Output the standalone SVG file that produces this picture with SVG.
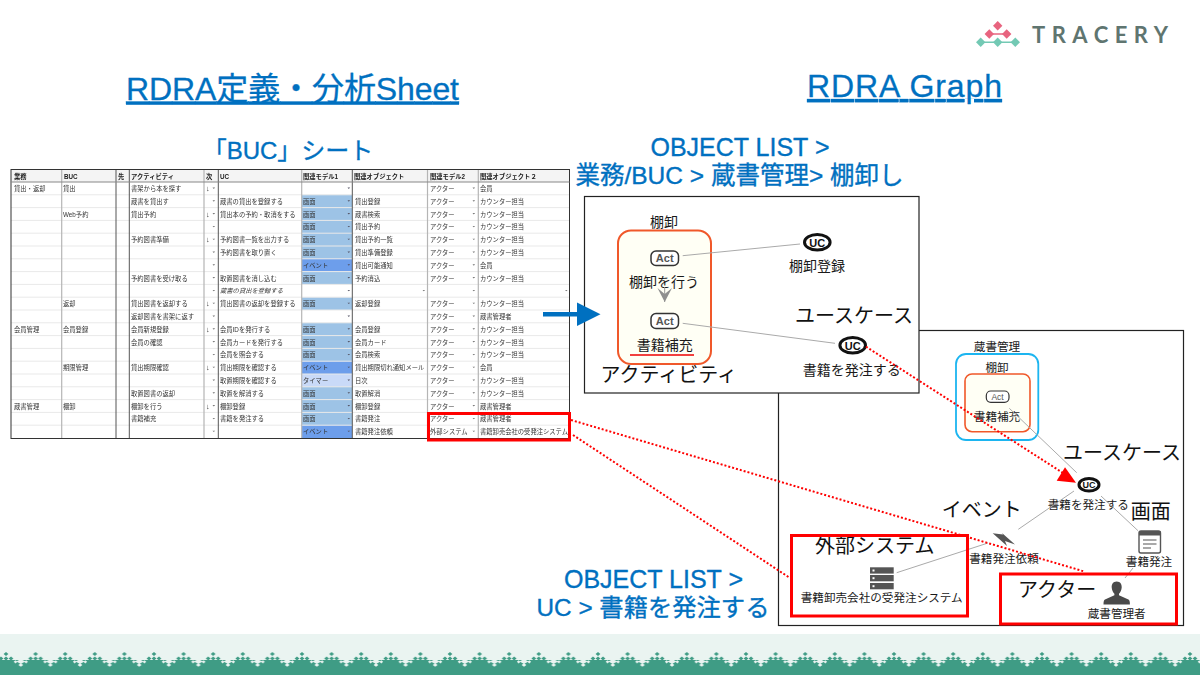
<svg xmlns="http://www.w3.org/2000/svg" width="1200" height="675" viewBox="0 0 1200 675">
<style>
text{font-family:"Liberation Sans","Noto Sans CJK JP",sans-serif;fill:#1a1a1a;dominant-baseline:central}
.title{font-size:32px;fill:#0070c0;stroke:#0070c0;stroke-width:.3;text-decoration:underline;dominant-baseline:auto}
.sub{font-size:24.5px;fill:#0070c0;stroke:#0070c0;stroke-width:.35;text-anchor:middle;dominant-baseline:auto}
.ol{font-size:25px}
.call{font-size:20px;fill:#111}
.n14{font-size:14px;text-anchor:middle}
.n12{font-size:11.6px;text-anchor:middle}
.frame{fill:#fff;stroke:#222;stroke-width:1.2}
.act-box{fill:#fffff5;stroke:#f0582a;stroke-width:2}
.link{stroke:#aaa;stroke-width:1;fill:none}
.dot{stroke:#f00;stroke-width:2;stroke-dasharray:2 2;fill:none}
.red{fill:none;stroke:#f00;stroke-width:3}
.act{fill:#fff;stroke:#333;stroke-width:1.5}
.actt{font-weight:700;fill:#555;text-anchor:middle}
.uc{fill:#fff;stroke:#111;stroke-width:3}
.uct{font-weight:700;fill:#111;text-anchor:middle}
.tb text{font-size:6.3px;fill:#333}
.tb .h{font-weight:700;fill:#222}
.tb .c4 text{font-size:7.5px}
.gl{stroke:#b5b5b5;stroke-width:1.2}
.dl{stroke:#555;stroke-width:1}
.rl{stroke:#e9e9e9;stroke-width:1}
.d1{fill:#9dc3e6}.d2{fill:#6d9eeb}.d3{fill:#c9daf8}
</style>
<defs>
<filter id="soft" x="-2%" y="-2%" width="104%" height="104%"><feGaussianBlur stdDeviation="0.35"/></filter>
<pattern id="wave" patternUnits="userSpaceOnUse" x="-8.8" y="650" width="29.6" height="25">
<path d="M0 10H29.6V25H0Z" fill="#3f9c85"/>
<g fill="#3f9c85"><path d="M14.8 2l2.4 2-2.4 2-2.4-2z"/><path d="M9.8 6.500l2.400 2-2.400 2-2.400-2z"/><path d="M19.800 6.500l2.400 2-2.400 2-2.400-2z"/><path d="M14.800 6.500l2.400 2-2.400 2-2.400-2z"/></g>
<g fill="#eaf4f1"><path d="M0 9l4.500 2.500L0 14l-4.500-2.500z"/><path d="M29.600 9l4.500 2.500-4.500 2.500-4.500-2.500z"/><path d="M29.600 13.200l2.400 1.800-2.400 1.800-2.400-1.800z"/><path d="M0 13.200l2.400 1.800-2.400 1.800-2.400-1.800z"/><path d="M5.300 10.200l1.800 1.600-1.800 1.600-1.800-1.600z"/><path d="M24.300 10.200l1.800 1.600-1.800 1.600-1.800-1.600z"/></g>
</pattern>
</defs>
<rect width="1200" height="675" fill="#fff"/>

<g id="footer"><rect x="0" y="634" width="1200" height="41" fill="#eaf4f1"/><rect x="0" y="650" width="1200" height="25" fill="url(#wave)"/></g>

<g id="logo">
<path d="M989.3 34H1006.7" stroke="#e8647f" stroke-width="1.5"/><path d="M980.7 42.3H1015.3" stroke="#73c9b4" stroke-width="1.5"/>
<g fill="#e8647f"><path d="M997.7 21l4.700 4.700-4.700 4.700-4.700-4.700z"/><path d="M989.300 29.300l4.700 4.700-4.700 4.700-4.700-4.700z"/><path d="M1006.700 29.300l4.700 4.700-4.700 4.700-4.700-4.700z"/></g>
<g fill="#73c9b4"><path d="M980.700 37.600l4.700 4.700-4.700 4.700-4.700-4.700z"/><path d="M997.700 37.600l4.700 4.700-4.700 4.700-4.700-4.700z"/><path d="M1015.300 37.600l4.700 4.700-4.700 4.700-4.700-4.700z"/></g>
<text x="1032" y="34" font-size="22" font-weight="700" textLength="136" style="font-family:Lato,'Liberation Sans',sans-serif;fill:#5f7570">TRACERY</text>
</g>

<g id="titles">
<text class="title" x="126" y="99.500" textLength="333">RDRA定義・分析Sheet</text>
<text class="title" x="807" y="97" textLength="195">RDRA Graph</text>
<text class="sub" x="288" y="159" style="font-size:24px">「BUC」シート</text>
<text class="sub ol" x="740" y="156">OBJECT LIST &gt;</text>
<text class="sub" x="739.500" y="184">業務/BUC &gt; 蔵書管理&gt; 棚卸し</text>
<text class="sub ol" x="653.500" y="588">OBJECT LIST &gt;</text>
<text class="sub" x="653" y="616" style="font-size:24.300px">UC &gt; 書籍を発注する</text>
</g>

<g id="sheet" class="tb">
<rect x="11" y="169.500" width="558.500" height="269" fill="#fff"/>
<rect x="11" y="169.500" width="558.500" height="12.500" fill="#f4f4f4"/>
<g>
<rect class="d1" x="302" y="194.800" width="50" height="64"/><rect class="d2" x="302" y="258.800" width="50" height="12.800"/><rect class="d1" x="302" y="271.600" width="50" height="12.800"/>
<rect class="d1" x="302" y="297.200" width="50" height="12.800"/><rect class="d1" x="302" y="322.800" width="50" height="38.400"/><rect class="d2" x="302" y="361.200" width="50" height="12.800"/><rect class="d3" x="302" y="374" width="50" height="12.800"/><rect class="d1" x="302" y="386.800" width="50" height="38.400"/><rect class="d2" x="302" y="425.200" width="50" height="13"/>
</g>
<path class="rl" d="M11 194.800H569M11 207.600H569M11 220.400H569M11 233.200H569M11 246H569M11 258.800H569M11 271.600H569M11 284.400H569M11 297.200H569M11 310H569M11 322.800H569M11 335.600H569M11 348.400H569M11 361.200H569M11 374H569M11 386.800H569M11 399.600H569M11 412.400H569M11 425.200H569"/>
<path class="gl" d="M61.700 170V438M204 170V438M301.700 170V438M427.500 170V438M478.300 170V438"/>
<path class="dl" d="M116 170V438M129.300 170V438M218.300 170V438M352.300 170V438"/>
<rect x="11" y="169.500" width="558.500" height="269" fill="none" stroke="#333" stroke-width="1"/>
<path d="M11 182H569.500" stroke="#888" stroke-width="1"/>
<g filter="url(#soft)">
<g class="hdr"><text class="h" x="14" y="176">業務</text><text class="h" x="64" y="176">BUC</text><text class="h" x="118" y="176">先</text><text class="h" x="131" y="176">アクティビティ</text><text class="h" x="206" y="176">次</text><text class="h" x="220" y="176">UC</text><text class="h" x="303" y="176">関連モデル1</text><text class="h" x="354" y="176">関連オブジェクト</text><text class="h" x="430" y="176">関連モデル2</text><text class="h" x="480" y="176">関連オブジェクト２</text></g>
<g class="c1"><text x="14" y="188.400">貸出・返却</text><text x="14" y="329.200">会員管理</text><text x="14" y="406">蔵書管理</text></g>
<g class="c2"><text x="63" y="188.400">貸出</text><text x="63" y="214">Web予約</text><text x="63" y="303.600">返却</text><text x="63" y="329.200">会員登録</text><text x="63" y="367.600">期限管理</text><text x="63" y="406">棚卸</text></g>
<g class="c3"><text x="131" y="188.400">書架から本を探す</text><text x="131" y="201.200">蔵書を貸出す</text><text x="131" y="214">貸出予約</text><text x="131" y="239.600">予約図書準備</text><text x="131" y="278">予約図書を受け取る</text><text x="131" y="303.600">貸出図書を返却する</text><text x="131" y="316.400">返却図書を書架に返す</text><text x="131" y="329.200">会員新規登録</text><text x="131" y="342">会員の確認</text><text x="131" y="367.600">貸出期限確認</text><text x="131" y="393.200">取置図書の返却</text><text x="131" y="406">棚卸を行う</text><text x="131" y="418.800">書籍補充</text></g>
<g class="c4"><text x="206" y="188.400">↓</text><text x="206" y="214">↓</text><text x="206" y="239.600">↓</text><text x="206" y="303.600">↓</text><text x="206" y="329.200">↓</text><text x="206" y="367.600">↓</text><text x="206" y="406">↓</text></g>
<g class="c5"><text x="220" y="201.200">蔵書の貸出を登録する</text><text x="220" y="214">貸出本の予約・取消をする</text><text x="220" y="239.600">予約図書一覧を出力する</text><text x="220" y="252.400">予約図書を取り置く</text><text x="220" y="278">取置図書を消し込む</text><text x="220" y="290.800" font-style="italic">蔵書の貸出を登録する</text><text x="220" y="303.600">貸出図書の返却を登録する</text><text x="220" y="329.200">会員IDを発行する</text><text x="220" y="342">会員カードを発行する</text><text x="220" y="354.800">会員を照会する</text><text x="220" y="367.600">貸出期限を確認する</text><text x="220" y="380.400">取置期限を確認する</text><text x="220" y="393.200">取置を解消する</text><text x="220" y="406">棚卸登録</text><text x="220" y="418.800">書籍を発注する</text></g>
<g class="c6"><text x="303" y="201.200">画面</text><text x="303" y="214">画面</text><text x="303" y="226.800">画面</text><text x="303" y="239.600">画面</text><text x="303" y="252.400">画面</text><text x="303" y="265.200">イベント</text><text x="303" y="278">画面</text><text x="303" y="303.600">画面</text><text x="303" y="329.200">画面</text><text x="303" y="342">画面</text><text x="303" y="354.800">画面</text><text x="303" y="367.600">イベント</text><text x="303" y="380.400">タイマー</text><text x="303" y="393.200">画面</text><text x="303" y="406">画面</text><text x="303" y="418.800">画面</text><text x="303" y="431.600">イベント</text></g>
<g class="c7"><text x="355" y="201.200">貸出登録</text><text x="355" y="214">蔵書検索</text><text x="355" y="226.800">貸出予約</text><text x="355" y="239.600">貸出予約一覧</text><text x="355" y="252.400">貸出準備登録</text><text x="355" y="265.200">貸出可能通知</text><text x="355" y="278">予約消込</text><text x="355" y="303.600">返却登録</text><text x="355" y="329.200">会員登録</text><text x="355" y="342">会員カード</text><text x="355" y="354.800">会員検索</text><text x="355" y="367.600">貸出期限切れ通知メール</text><text x="355" y="380.400">日次</text><text x="355" y="393.200">取置解消</text><text x="355" y="406">棚卸登録</text><text x="355" y="418.800">書籍発注</text><text x="355" y="431.600">書籍発注依頼</text></g>
<g class="c8"><text x="430" y="188.400">アクター</text><text x="430" y="201.200">アクター</text><text x="430" y="214">アクター</text><text x="430" y="226.800">アクター</text><text x="430" y="239.600">アクター</text><text x="430" y="252.400">アクター</text><text x="430" y="265.200">アクター</text><text x="430" y="278">アクター</text><text x="430" y="303.600">アクター</text><text x="430" y="316.400">アクター</text><text x="430" y="329.200">アクター</text><text x="430" y="342">アクター</text><text x="430" y="354.800">アクター</text><text x="430" y="367.600">アクター</text><text x="430" y="380.400">アクター</text><text x="430" y="393.200">アクター</text><text x="430" y="406">アクター</text><text x="430" y="418.800">アクター</text><text x="430" y="431.600">外部システム</text></g>
<g class="c9"><text x="480" y="188.400">会員</text><text x="480" y="201.200">カウンター担当</text><text x="480" y="214">カウンター担当</text><text x="480" y="226.800">カウンター担当</text><text x="480" y="239.600">カウンター担当</text><text x="480" y="252.400">カウンター担当</text><text x="480" y="265.200">会員</text><text x="480" y="278">カウンター担当</text><text x="480" y="303.600">カウンター担当</text><text x="480" y="316.400">蔵書管理者</text><text x="480" y="329.200">カウンター担当</text><text x="480" y="342">カウンター担当</text><text x="480" y="354.800">カウンター担当</text><text x="480" y="367.600">会員</text><text x="480" y="380.400">カウンター担当</text><text x="480" y="393.200">カウンター担当</text><text x="480" y="406">蔵書管理者</text><text x="480" y="418.800">蔵書管理者</text><text x="480" y="431.600">書籍卸売会社の受発注システム</text></g>
<path fill="#777" d="M212.500 187.500h2.600l-1.300 1.400zM212.500 200.300h2.600l-1.300 1.400zM212.500 213.100h2.600l-1.300 1.400zM212.500 225.900h2.600l-1.300 1.400zM212.500 238.700h2.600l-1.300 1.400zM212.500 251.500h2.600l-1.300 1.400zM212.500 264.300h2.600l-1.300 1.400zM212.500 277.100h2.600l-1.300 1.400zM212.500 289.900h2.600l-1.300 1.400zM212.500 302.700h2.600l-1.300 1.400zM212.500 315.500h2.600l-1.300 1.400zM212.500 328.300h2.600l-1.300 1.400zM212.500 341.100h2.600l-1.300 1.400zM212.500 353.900h2.600l-1.300 1.400zM212.500 366.700h2.600l-1.300 1.400zM212.500 379.500h2.600l-1.300 1.400zM212.500 392.300h2.600l-1.300 1.400zM212.500 405.100h2.600l-1.300 1.400zM212.500 417.900h2.600l-1.300 1.400zM212.500 430.700h2.600l-1.300 1.400z"/>
<path fill="#556" d="M347.500 187.500h2.600l-1.300 1.400zM347.500 200.300h2.600l-1.300 1.400zM347.500 213.100h2.600l-1.300 1.400zM347.500 225.900h2.600l-1.300 1.400zM347.500 238.700h2.600l-1.300 1.400zM347.500 251.500h2.600l-1.300 1.400zM347.500 264.300h2.600l-1.300 1.400zM347.500 277.100h2.600l-1.300 1.400zM347.500 289.900h2.600l-1.300 1.400zM347.500 302.700h2.600l-1.300 1.400zM347.500 315.500h2.600l-1.300 1.400zM347.500 328.300h2.600l-1.300 1.400zM347.500 341.100h2.600l-1.300 1.400zM347.500 353.900h2.600l-1.300 1.400zM347.500 366.700h2.600l-1.300 1.400zM347.500 379.500h2.600l-1.300 1.400zM347.500 392.300h2.600l-1.300 1.400zM347.500 405.100h2.600l-1.300 1.400zM347.500 417.900h2.600l-1.300 1.400zM347.500 430.700h2.600l-1.300 1.400z"/>
<path fill="#777" d="M472.500 187.500h2.600l-1.300 1.400zM472.500 200.300h2.600l-1.300 1.400zM472.500 213.100h2.600l-1.300 1.400zM472.500 225.900h2.600l-1.300 1.400zM472.500 238.700h2.600l-1.300 1.400zM472.500 251.500h2.600l-1.300 1.400zM472.500 264.300h2.600l-1.300 1.400zM472.500 277.100h2.600l-1.300 1.400zM472.500 289.900h2.600l-1.300 1.400zM472.500 302.700h2.600l-1.300 1.400zM472.500 315.500h2.600l-1.300 1.400zM472.500 328.300h2.600l-1.300 1.400zM472.500 341.100h2.600l-1.300 1.400zM472.500 353.900h2.600l-1.300 1.400zM472.500 366.700h2.600l-1.300 1.400zM472.500 379.500h2.600l-1.300 1.400zM472.500 392.300h2.600l-1.300 1.400zM472.500 405.100h2.600l-1.300 1.400zM472.500 417.900h2.600l-1.300 1.400zM472.500 430.700h2.600l-1.300 1.400zM422.500 289.900h2.600l-1.300 1.400zM565 289.900h2.600l-1.300 1.400z"/>
</g>
<rect id="sheet-highlight" class="red" x="428.500" y="413.500" width="141" height="26.500"/>
</g>

<g id="frame-lower"><rect class="frame" x="778.500" y="330.500" width="405" height="295"/></g>
<g id="frame-upper"><rect class="frame" x="584.500" y="196.500" width="334.500" height="196.500"/></g>

<g id="buc-tanaoroshi">
<rect class="act-box" x="618" y="230.500" width="93" height="133.500" rx="13"/>
<text class="n14" x="664" y="221.500">棚卸</text>
</g>
<g id="act-1"><rect class="act" x="651" y="251" width="27.500" height="14.500" rx="5"/><text class="actt" x="664.700" y="258.300" font-size="11">Act</text><text class="n14" x="664" y="281.500">棚卸を行う</text></g>
<g id="act-2"><rect class="act" x="651" y="313.500" width="27.500" height="15" rx="5"/><text class="actt" x="664.700" y="321" font-size="11">Act</text><text class="n14" x="664.700" y="345">書籍補充</text><path d="M630 355H694" stroke="#e00" stroke-width="1.500"/></g>
<g id="uc-1"><ellipse class="uc" cx="817.300" cy="242.300" rx="12.800" ry="7.800"/><text class="uct" x="817.300" y="242.600" font-size="11">UC</text><text class="n14" x="817" y="266">棚卸登録</text></g>
<g id="uc-2"><ellipse class="uc" cx="852.700" cy="345.300" rx="12.800" ry="7.800"/><text class="uct" x="852.700" y="345.600" font-size="11">UC</text><text class="n14" x="851.700" y="370">書籍を発注する</text></g>
<g id="callouts-upper"><text class="call" x="600.500" y="375">アクティビティ</text><text class="call" x="795" y="316">ユースケース</text></g>

<g id="buc-kanri">
<rect x="956" y="354" width="82.300" height="86" rx="10" fill="#fff" stroke="#1cb5f0" stroke-width="1.800"/>
<text class="n12" x="997" y="346.700">蔵書管理</text>
<text class="n12" x="997" y="367.700">棚卸</text>
<rect class="act-box" x="965" y="374" width="65" height="57.700" rx="7" style="stroke-width:1.600"/>
</g>
<g id="act-3"><rect class="act" x="986.300" y="391" width="22.700" height="11.300" rx="4.500" style="stroke-width:1.200"/><text x="997.600" y="396.800" font-size="8.500" style="fill:#555;text-anchor:middle">Act</text><text class="n12" x="997" y="416.700">書籍補充</text></g>
<g id="uc-3"><ellipse class="uc" cx="1089" cy="484.700" rx="10" ry="6.300"/><text class="uct" x="1089" y="485" font-size="9">UC</text><text class="n12" x="1088.300" y="504">書籍を発注する</text></g>
<g id="event"><path d="M992.700 533.300L1003 534.500L1002 533L1015 544.500L1005 541L1007 546Z" fill="#555"/><text class="n12" x="1004" y="558">書籍発注依頼</text></g>
<g id="screen"><rect x="1139" y="531" width="21.500" height="22" rx="2" fill="#fff" stroke="#555" stroke-width="1.400"/><path d="M1139 531h21.500v4.500H1139z" fill="#555"/><path d="M1143 540h13.500M1143 544h13.500M1143 548h8" stroke="#555" stroke-width="1.200"/><text class="n12" x="1149" y="561.700">書籍発注</text></g>
<g id="actor"><path d="M1116.700 581.500c-3.700 0-5.200 2.800-5 6 .2 3 1.500 5 2.700 6.300v1.500l-9.400 4.200c-1 .6-1.500 1.600-1.500 5h26.400c0-3.400-.5-4.400-1.500-5l-9.400-4.200v-1.500c1.200-1.300 2.500-3.300 2.700-6.300 .2-3.200-1.300-6-5-6z" fill="#4a4a4a"/><text class="n12" x="1116.700" y="613">蔵書管理者</text></g>
<g id="external"><g fill="#555"><rect x="870" y="567.300" width="23.700" height="6.300"/><rect x="870" y="575" width="23.700" height="6.300"/><rect x="870" y="583" width="23.700" height="6.300"/></g><g fill="#fff"><rect x="872.500" y="569.500" width="2" height="2"/><rect x="872.500" y="577.200" width="2" height="2"/><rect x="872.500" y="585.200" width="2" height="2"/></g><text class="n12" x="881.700" y="597.700">書籍卸売会社の受発注システム</text></g>
<g id="callouts-lower"><text class="call" x="1063" y="452.700">ユースケース</text><text class="call" x="1130.700" y="511.700">画面</text><text class="call" x="941.700" y="510">イベント</text><text class="call" x="815" y="546">外部システム</text><text class="call" x="1018" y="590">アクター</text></g>

<g id="connectors">
<path class="link" d="M682.700 255.700L800 244"/>
<path class="link" d="M682.700 323.300L835 343.300"/>
<path class="link" d="M1009.300 408.300L1076.700 472.700"/>
<path class="link" d="M1018.300 529.300L1074 491"/>
<path class="link" d="M1101 496L1138 530.700"/>
<path class="link" d="M1133 568L1125 578"/>
<path class="link" d="M896.700 572.700L988 543"/>
<path d="M664.700 287V302" stroke="#999" stroke-width="1" fill="none"/>
<path d="M657.500 288L664.700 302L672 288L664.700 294Z" fill="#8f8f8f"/>
<g id="blue-arrow"><path d="M543 314.300H580" stroke="#0070c0" stroke-width="4.500"/><path d="M577 302.500L600.500 314.300L577 326Z" fill="#0070c0"/></g>
</g>

<g id="highlights">
<rect class="red" x="791.500" y="535.500" width="176" height="80.500"/>
<rect class="red" x="1000.500" y="574" width="176" height="50"/>
<path class="dot" d="M866 346.700L1063 473"/>
<path d="M1065 467.300L1056.700 480.700L1076 482.700Z" fill="#f00"/>
<path class="dot" d="M571 420L1085 571.700"/>
<path class="dot" d="M573 435L790 578"/>
</g>
</svg>
